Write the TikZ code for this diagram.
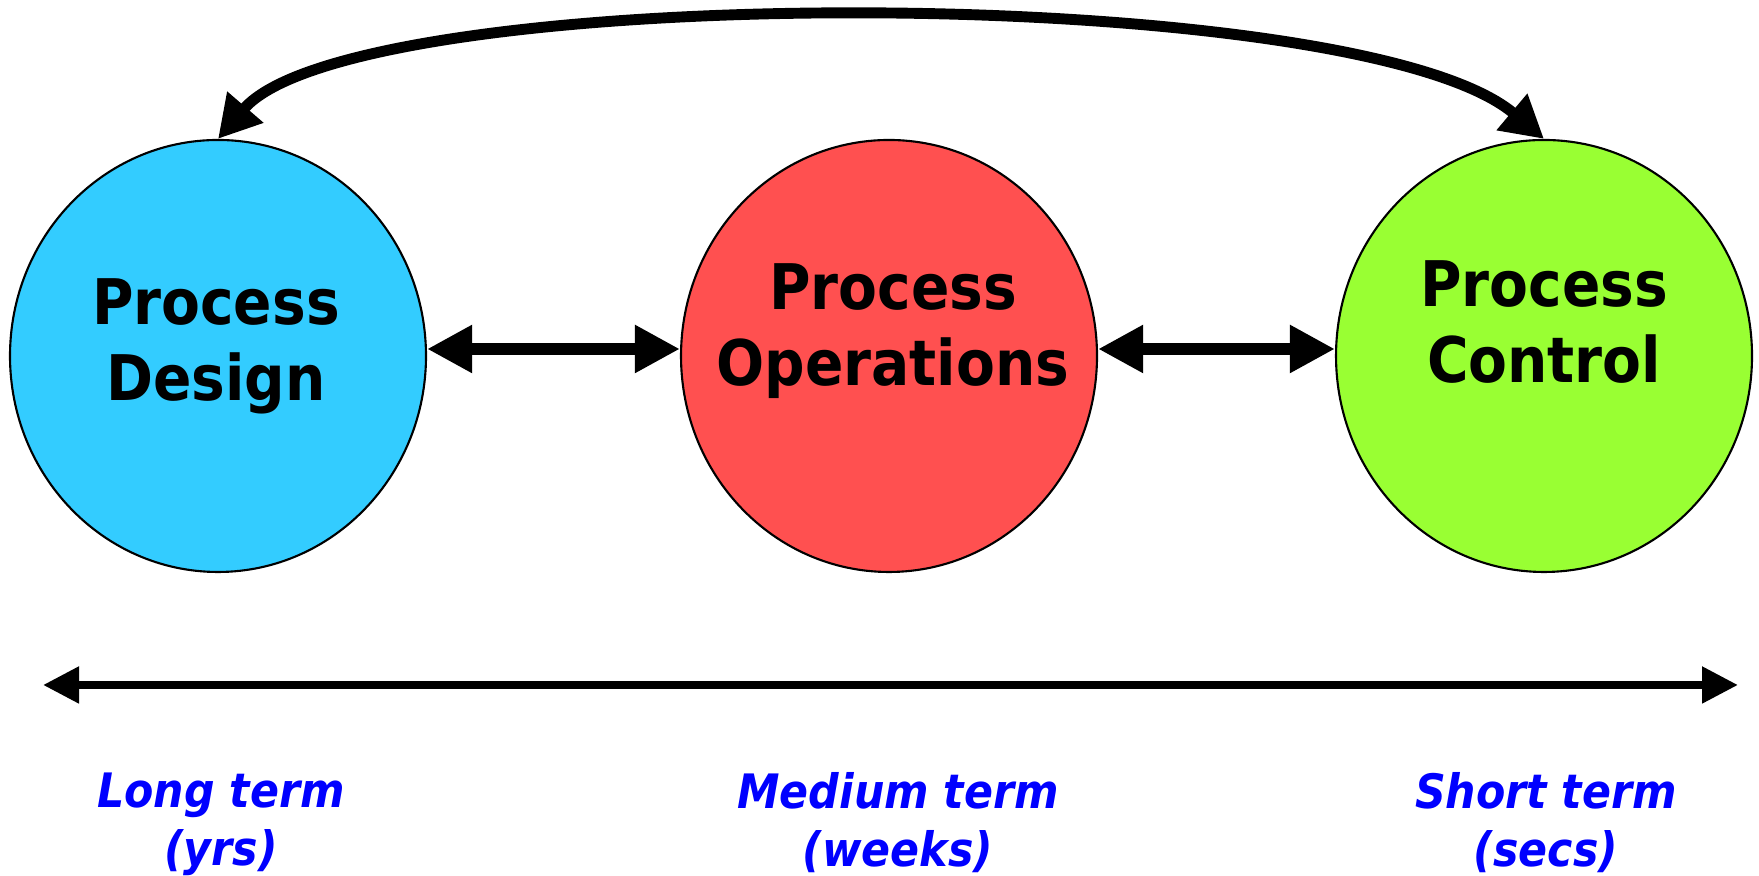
\documentclass[tikz,border=0pt]{standalone}
\usepackage{fontspec}
\setmainfont{DejaVuSansCondensed.ttf}[
  BoldFont=DejaVuSansCondensed-Bold.ttf,
  ItalicFont=DejaVuSansCondensed-Oblique.ttf,
  BoldItalicFont=DejaVuSansCondensed-BoldOblique.ttf]
\usetikzlibrary{arrows.meta,shapes.geometric}
\definecolor{designblue}{RGB}{51,204,255}
\definecolor{opsred}{RGB}{255,80,80}
\definecolor{controlgreen}{RGB}{153,255,51}

\begin{document}
\begin{tikzpicture}[
  proc/.style = {draw, ellipse, line width=0.6pt, minimum width=4.16cm, minimum height=4.32cm, inner sep=0pt},
  proctext/.style = {anchor=north, inner sep=0pt, align=center, font=\fontsize{17.9}{21.6}\selectfont\bfseries},
  termtext/.style = {anchor=north, inner sep=0pt, align=center, text=blue, font=\fontsize{13.5}{16.5}\selectfont\bfseries\itshape},
  link/.style = {line width=3.4pt, {Triangle[length=0.45cm,width=0.45cm]}-{Triangle[length=0.45cm,width=0.45cm]}},
  cyclearc/.style = {line width=3.1pt, {Triangle[length=0.42cm,width=0.45cm]}-{Triangle[length=0.42cm,width=0.45cm]}},
  timeaxis/.style = {line width=2.3pt, {Triangle[length=0.36cm,width=0.35cm]}-{Triangle[length=0.36cm,width=0.35cm]}}
]
		\useasboundingbox (0,0) rectangle (17.59,8.76);
		% Ympyrat
		\node[proc, fill=designblue] (design) at (2.18,5.20) {};
		\node[proc, fill=opsred] (ops) at (8.89,5.20) {};
		\node[proc, fill=controlgreen] (control) at (15.44,5.20) {};
		\node[proctext] (designtxt) at (2.16,5.98) {Process\\Design};
		\node[proctext] (opstxt) at (8.93,6.13) {Process\\Operations};
		\node[proctext] (controltxt) at (15.44,6.16) {Process\\Control};
		% Nuolet
		\draw[link] ([yshift=0.07cm]design.east) -- ([yshift=0.07cm]ops.west);	% design-ops
		\draw[link] ([yshift=0.07cm]ops.east) -- ([yshift=0.07cm]control.west);	% ops-control
		\draw[cyclearc] (design.north) .. controls (3.55,8.96) and (13.55,8.96) .. (control.north);	% design-control
		% Aika-akseli
		\coordinate (longend) at (0.43,1.91);
		\coordinate (shortend) at (17.38,1.91);
		\draw[timeaxis] (longend) -- (shortend);
		\node[termtext] (longtxt) at (2.21,1.04) {Long term\\(yrs)};
		\node[termtext] (medtxt) at (8.98,1.04) {Medium term\\(weeks)};
		\node[termtext] (shorttxt) at (15.46,1.04) {Short term\\(secs)};
\end{tikzpicture}
\end{document}
